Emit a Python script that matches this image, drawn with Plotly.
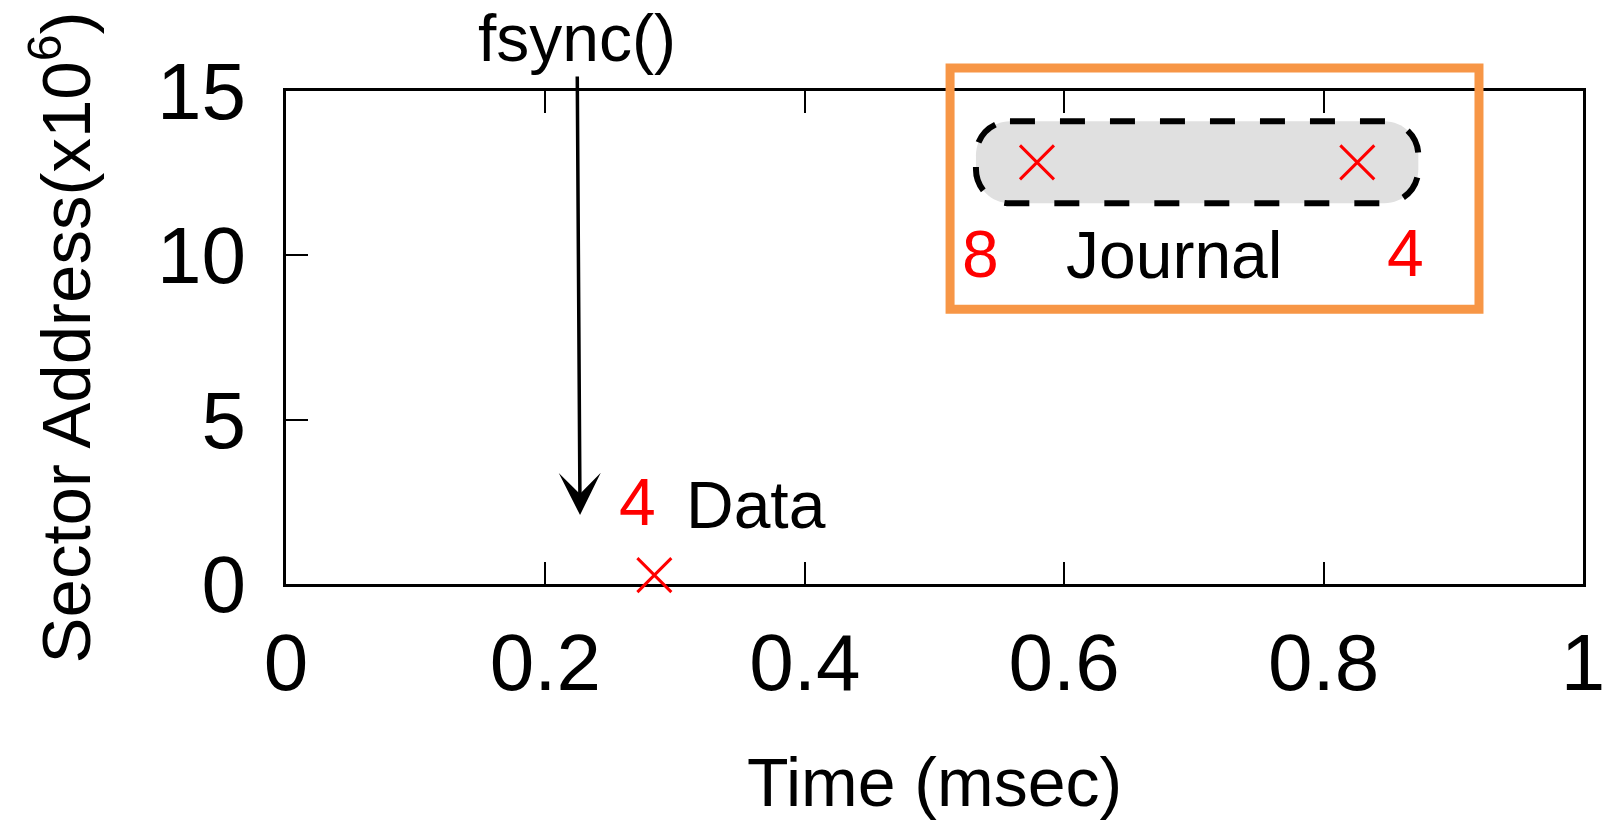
import plotly.graph_objects as go

# I/O trace: write requests issued after fsync()
time_ms = [0.284, 0.579, 0.826]
sector_m = [0.27, 12.83, 12.83]
req_counts = [4, 8, 4]
count_shift = [(-17, 73), (-56, -92), (48, -91)]  # label offsets in px

# Region labels
region_names = ["Data", "Journal"]
region_x = [0.362, 0.685]
region_y = [2.40, 10.0]

# fsync() call marker
fsync_time = 0.2267
fsync_arrow_tip = 2.1

x_ticks = [0, 0.2, 0.4, 0.6, 0.8, 1]
y_ticks = [0, 5, 10, 15]

FONT = "Liberation Sans, Arial, sans-serif"
RED = "#ff0000"
ORANGE = "#f79646"

W, H = 1612, 820
M_L, M_R, M_T, M_B = 286, 29, 91, 236
X_RANGE = (0, 1)
Y_RANGE = (0, 15)
px_x = (W - M_L - M_R) / (X_RANGE[1] - X_RANGE[0])
px_y = (H - M_T - M_B) / (Y_RANGE[1] - Y_RANGE[0])


def rounded_rect(x0, x1, y0, y1, r_px):
    """Rounded-rectangle SVG path in data units with a circular corner radius in pixels."""
    rx, ry = r_px / px_x, r_px / px_y
    k = 0.5523
    return (
        f"M{x0 + rx},{y1} L{x1 - rx},{y1} "
        f"C{x1 - rx + k * rx},{y1} {x1},{y1 - ry + k * ry} {x1},{y1 - ry} "
        f"L{x1},{y0 + ry} "
        f"C{x1},{y0 + ry - k * ry} {x1 - rx + k * rx},{y0} {x1 - rx},{y0} "
        f"L{x0 + rx},{y0} "
        f"C{x0 + rx - k * rx},{y0} {x0},{y0 + ry - k * ry} {x0},{y0 + ry} "
        f"L{x0},{y1 - ry} "
        f"C{x0},{y1 - ry + k * ry} {x0 + rx - k * rx},{y1} {x0 + rx},{y1} Z"
    )


def to_ydomain(v):
    return (v - Y_RANGE[0]) / (Y_RANGE[1] - Y_RANGE[0])


def to_xdomain(v):
    return (v - X_RANGE[0]) / (X_RANGE[1] - X_RANGE[0])


fig = go.Figure()

fig.add_trace(go.Scatter(
    x=time_ms, y=sector_m, mode="markers",
    marker=dict(symbol="x-thin", size=34, color=RED, line=dict(color=RED, width=3)),
    cliponaxis=False, showlegend=False, hoverinfo="x+y",
))

# Journal group: grey rounded band with dashed outline
jx = time_ms[1:]
jy = sector_m[1:]
pad_x, pad_y = 61 / px_x, 41 / px_y
band = rounded_rect(min(jx) - pad_x, max(jx) + pad_x,
                    min(jy) - pad_y, max(jy) + pad_y, 34)
fig.add_shape(type="path", path=band, xref="x", yref="y", layer="below",
              fillcolor="#e0e0e0", line=dict(color="black", width=6, dash="25px,25px"))

# Orange highlight frame around the journal writes (extends above the plot area)
fig.add_shape(type="rect", xref="x domain", yref="y domain", layer="above",
              x0=to_xdomain(0.512), x1=to_xdomain(0.9198),
              y0=to_ydomain(8.36), y1=to_ydomain(15.7),
              line=dict(color=ORANGE, width=9), fillcolor="rgba(0,0,0,0)")

annotations = []
for x, y, n, (dx, dy) in zip(time_ms, sector_m, req_counts, count_shift):
    annotations.append(dict(x=x, y=y, xref="x", yref="y", text=str(n), showarrow=False,
                            xshift=dx, yshift=dy,
                            font=dict(family=FONT, size=66, color=RED)))
for name, x, y in zip(region_names, region_x, region_y):
    annotations.append(dict(x=x, y=y, xref="x", yref="y", text=name, showarrow=False,
                            font=dict(family=FONT, size=66, color="black")))

# fsync() label with its arrow pointing down to the data write
annotations.append(dict(x=fsync_time, y=fsync_arrow_tip, xref="x", yref="y",
                        text="fsync()", showarrow=True, ax=-3, ay=-477,
                        arrowhead=3, arrowwidth=3.5, arrowsize=2.0, arrowcolor="black",
                        standoff=0, startstandoff=0,
                        font=dict(family=FONT, size=66, color="black")))

fig.update_layout(
    width=W, height=H,
    margin=dict(l=M_L, r=M_R, t=M_T, b=M_B, autoexpand=False),
    paper_bgcolor="white", plot_bgcolor="white",
    font=dict(family=FONT, color="black"),
    annotations=annotations,
    showlegend=False,
)

axis_common = dict(
    showline=True, linecolor="black", linewidth=3,
    ticks="inside", ticklen=22, tickwidth=2, tickcolor="black",
    showgrid=False, zeroline=False, layer="below traces",
    tickfont=dict(family=FONT, size=80, color="black"),
)

fig.update_xaxes(
    range=list(X_RANGE), tickvals=x_ticks, ticktext=[f"{v:g}" for v in x_ticks],
    ticklabelstandoff=7, mirror="ticks",
    title=dict(text="Time (msec)", font=dict(family=FONT, size=68), standoff=61),
    automargin=False, **axis_common,
)
fig.update_yaxes(
    range=list(Y_RANGE), tickvals=y_ticks, ticktext=[str(v) for v in y_ticks],
    ticklabelstandoff=21, mirror=True,
    title=dict(text="Sector Address(x10<sup>6</sup>)", font=dict(family=FONT, size=69), standoff=44),
    automargin=False, **axis_common,
)

fig.write_html("out.html")
